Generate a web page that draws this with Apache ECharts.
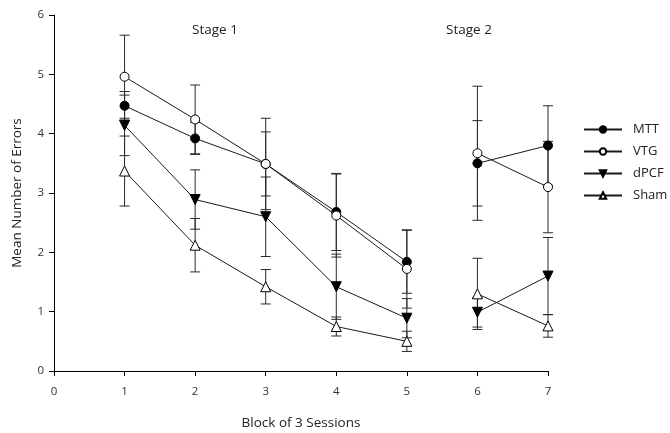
<!DOCTYPE html>
<html>
<head>
<meta charset="utf-8">
<script src="https://cdn.jsdelivr.net/npm/echarts@6/dist/echarts.min.js"></script>
<style>html,body{margin:0;padding:0;background:#fff}#c{width:670px;height:433px}</style>
</head>
<body>
<div id="c"></div>
<script>
const blocks = [1, 2, 3, 4, 5, 6, 7];
const mtt = [4.47, 3.92, 3.49, 2.68, 1.84, 3.5, 3.8];
const mttErr = [0.24, 0.27, 0.54, 0.65, 0.53, 0.72, 0.67];
const vtg = [4.96, 4.24, 3.49, 2.62, 1.72, 3.67, 3.1];
const vtgErr = [0.7, 0.58, 0.77, 0.7, 0.66, 1.13, 0.77];
const dpcf = [4.14, 2.89, 2.6, 1.42, 0.89, 0.99, 1.6];
const dpcfErr = [0.51, 0.5, 0.67, 0.55, 0.33, 0.25, 0.65];
const sham = [3.37, 2.12, 1.42, 0.75, 0.5, 1.3, 0.76];
const shamErr = [0.59, 0.45, 0.29, 0.16, 0.17, 0.6, 0.19];
const stage1 = [0, 1, 2, 3, 4];
const stage2 = [5, 6];
const stageLabels = ['Stage 1', 'Stage 2'];

const FONT = 'Open Sans';
const INK = '#1a1a1a';

const groups = [
  {name: 'MTT', vals: mtt, err: mttErr, symbol: 'circle', size: 9, fill: '#000', rot: 0},
  {name: 'VTG', vals: vtg, err: vtgErr, symbol: 'circle', size: 9, fill: '#fff', rot: 0},
  {name: 'dPCF', vals: dpcf, err: dpcfErr, symbol: 'triangle', size: 10, fill: '#000', rot: 180},
  {name: 'Sham', vals: sham, err: shamErr, symbol: 'triangle', size: 10, fill: '#fff', rot: 0}
];

const series = [];
groups.forEach(g => {
  [stage1, stage2].forEach(idx => {
    series.push({
      type: 'line',
      name: g.name,
      z: 3,
      data: idx.map(i => [blocks[i], g.vals[i]]),
      symbol: g.symbol,
      symbolSize: g.size,
      symbolRotate: g.rot,
      showAllSymbol: true,
      color: INK,
      lineStyle: {color: INK, width: 1},
      itemStyle: {color: g.fill, borderColor: '#000', borderWidth: 1},
      emphasis: {disabled: true},
      animation: false
    });
  });
});
groups.forEach(g => {
  series.push({
    type: 'custom',
    name: g.name + ' SE',
    z: 1,
    silent: true,
    data: blocks.map((b, i) => [b, g.vals[i] - g.err[i], g.vals[i] + g.err[i]]),
    encode: {x: 0, y: [1, 2]},
    renderItem: function (params, api) {
      const lo = api.coord([api.value(0), api.value(1)]);
      const hi = api.coord([api.value(0), api.value(2)]);
      const hw = 5;
      const st = {stroke: '#2a2a2a', lineWidth: 1};
      return {
        type: 'group',
        children: [
          {type: 'line', shape: {x1: lo[0], y1: lo[1], x2: hi[0], y2: hi[1]}, style: st},
          {type: 'line', shape: {x1: lo[0] - hw, y1: lo[1], x2: lo[0] + hw, y2: lo[1]}, style: st},
          {type: 'line', shape: {x1: hi[0] - hw, y1: hi[1], x2: hi[0] + hw, y2: hi[1]}, style: st}
        ]
      };
    }
  });
});

const chart = echarts.init(document.getElementById('c'));
chart.setOption({
  animation: false,
  backgroundColor: '#fff',
  textStyle: {fontFamily: FONT},
  grid: {left: 54, right: 122, top: 15, bottom: 62, containLabel: false, outerBoundsMode: 'none'},
  legend: {
    data: groups.map(g => g.name),
    orient: 'vertical',
    left: 578,
    top: 118,
    itemWidth: 38,
    itemHeight: 8,
    itemGap: 9,
    textStyle: {fontFamily: FONT, fontSize: 13, color: '#222', padding: [0, 0, 0, 6]},
    selectedMode: false
  },
  xAxis: {
    type: 'value',
    min: 0, max: 7, interval: 1,
    name: 'Block of 3 Sessions',
    nameLocation: 'middle',
    nameGap: 45,
    nameTextStyle: {fontFamily: FONT, fontSize: 13.5, color: '#222'},
    axisLine: {lineStyle: {color: '#000', width: 1}},
    axisTick: {show: true, length: 5, lineStyle: {color: '#000'}},
    axisLabel: {fontFamily: FONT, fontSize: 11.5, color: '#333', margin: 15},
    splitLine: {show: false}
  },
  yAxis: {
    type: 'value',
    min: 0, max: 6, interval: 1,
    name: 'Mean Number of Errors',
    nameLocation: 'middle',
    nameGap: 30,
    nameTextStyle: {fontFamily: FONT, fontSize: 13.5, color: '#222'},
    axisLine: {show: true, lineStyle: {color: '#000', width: 1}},
    axisTick: {show: true, length: 5, lineStyle: {color: '#000'}},
    axisLabel: {fontFamily: FONT, fontSize: 11.5, color: '#333', margin: 10},
    splitLine: {show: false}
  },
  graphic: [
    {type: 'text', left: 192, top: 23, style: {text: stageLabels[0], font: '13.5px "Open Sans"', fill: '#222'}},
    {type: 'text', left: 446, top: 23, style: {text: stageLabels[1], font: '13.5px "Open Sans"', fill: '#222'}}
  ],
  series: series
});
</script>
</body>
</html>
